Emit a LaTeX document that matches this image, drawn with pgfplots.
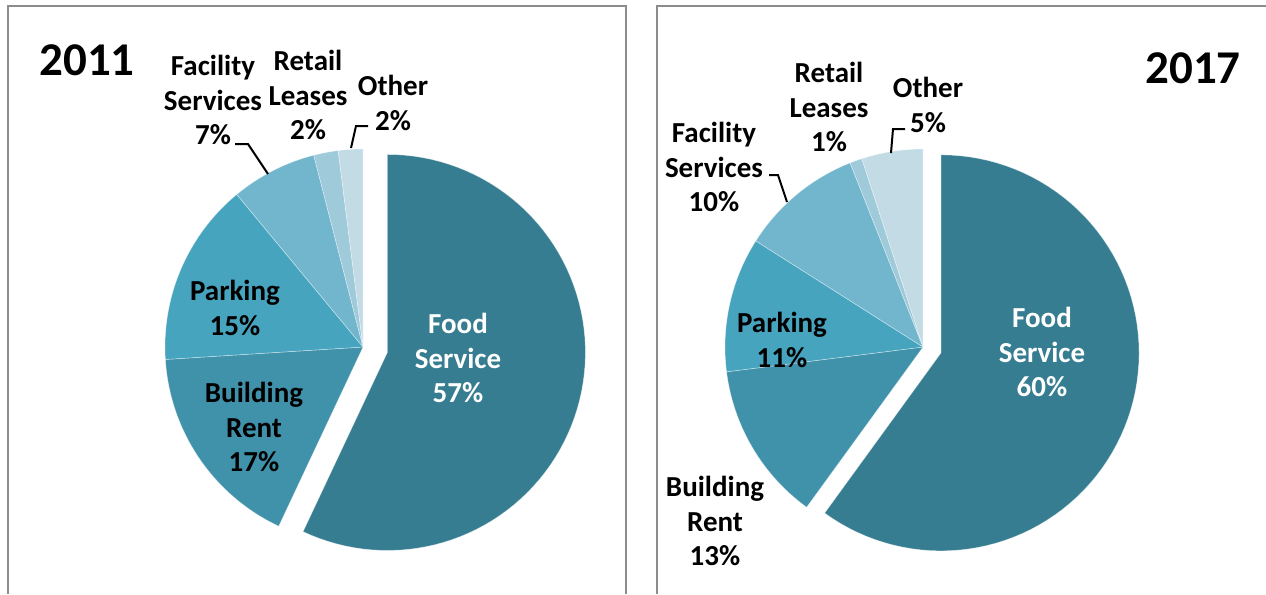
\documentclass[border=0pt]{standalone}
\usepackage{fontspec}
\setmainfont{Carlito}
\usepackage{pgfplots}
\usepackage{pgfplotstable}
\pgfplotsset{compat=1.18}

\definecolor{c0}{HTML}{367D91}
\definecolor{c1}{HTML}{4091AA}
\definecolor{c2}{HTML}{47A4BE}
\definecolor{c3}{HTML}{71B6CD}
\definecolor{c4}{HTML}{9FCADA}
\definecolor{c5}{HTML}{C2DBE4}
\definecolor{frame}{HTML}{8C8C8C}

% share in percent, explode distance in px
\pgfplotstableread{
category share explode
Food     57 25
Building 17 0
Parking  15 0
Facility 7  0
Retail   2  0
Other    2  0
}\dataA
\pgfplotstableread{
category share explode
Food     60 19
Building 13 0
Parking  11 0
Facility 10 0
Retail   1  0
Other    5  0
}\dataB

\newcommand{\drawpie}[4]{% table, cx, cy, r
  \xdef\cum{0}%
  \pgfplotsforeachungrouped \i in {0,...,5}{%
    \pgfplotstablegetelem{\i}{share}\of{#1}\let\sh\pgfplotsretval
    \pgfplotstablegetelem{\i}{explode}\of{#1}\let\ex\pgfplotsretval
    \pgfmathsetmacro\a{\cum}%
    \pgfmathsetmacro\b{\cum+\sh}%
    \pgfmathsetmacro\m{1.8*(\a+\b)}%
    \pgfmathsetmacro\ox{#2+\ex*sin(\m)}%
    \pgfmathsetmacro\oy{#3-\ex*cos(\m)}%
    \edef\cmd{\noexpand\addplot[fill=c\i, draw=white, draw opacity=0.45, line width=0.3pt, domain=\a:\b, samples=80, variable=\noexpand\t]
      ({\ox+#4*sin(3.6*\noexpand\t)},{\oy-#4*cos(3.6*\noexpand\t)}) -- (axis cs:\ox,\oy) -- cycle;}%
    \cmd
    \xdef\cum{\b}%
  }%
}

\begin{document}
\begin{tikzpicture}[
  lab/.style={font=\bfseries\fontsize{14.5}{17.2}\selectfont, align=center, text=black, inner sep=0pt},
  ttl/.style={font=\bfseries\fontsize{23.5}{27}\selectfont, text=black, inner sep=0pt},
  lead/.style={black, line width=1pt}
]
\begin{axis}[
  width=633pt, height=297pt, scale only axis,
  xmin=0, xmax=1266, ymin=0, ymax=594, y dir=reverse,
  hide axis, clip=false
]
% panel frames
\draw[frame, line width=1pt] (axis cs:8,594) -- (axis cs:8,6) -- (axis cs:626,6) -- (axis cs:626,594);
\draw[frame, line width=1pt] (axis cs:657,594) -- (axis cs:657,6) -- (axis cs:1266,6);

\drawpie{\dataA}{363}{347}{198}
\drawpie{\dataB}{923}{347}{198}

% 2011 labels
\node[ttl] at (axis cs:87,60) {2011};
\node[lab] at (axis cs:213,100) {Facility\\Services\\7\%};
\node[lab] at (axis cs:308,95) {Retail\\Leases\\2\%};
\node[lab] at (axis cs:393,103) {Other\\2\%};
\node[lab] at (axis cs:235,308) {Parking\\15\%};
\node[lab] at (axis cs:254,427) {Building\\Rent\\17\%};
\node[lab, text=white] at (axis cs:458,358) {Food\\Service\\57\%};
\draw[lead] (axis cs:235,144) -- (axis cs:248,144) -- (axis cs:268,174);
\draw[lead] (axis cs:368,126) -- (axis cs:356,126) -- (axis cs:351,148);

% 2017 labels
\node[ttl] at (axis cs:1193,68) {2017};
\node[lab] at (axis cs:714,167) {Facility\\Services\\10\%};
\node[lab] at (axis cs:829,107) {Retail\\Leases\\1\%};
\node[lab] at (axis cs:928,105) {Other\\5\%};
\node[lab] at (axis cs:782,340) {Parking\\11\%};
\node[lab] at (axis cs:715,521) {Building\\Rent\\13\%};
\node[lab, text=white] at (axis cs:1042,352) {Food\\Service\\60\%};
\draw[lead] (axis cs:769,175) -- (axis cs:778,175) -- (axis cs:787,202);
\draw[lead] (axis cs:905,129) -- (axis cs:893,129) -- (axis cs:891,153);
\end{axis}
\pgfresetboundingbox
\path (current axis.south west) rectangle (current axis.north east);
\end{tikzpicture}
\end{document}
